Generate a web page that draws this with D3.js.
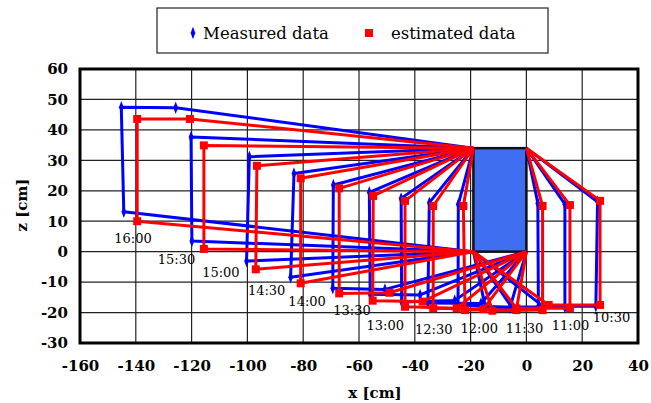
<!DOCTYPE html>
<html><head><meta charset="utf-8">
<script src="https://cdn.jsdelivr.net/npm/d3@7"></script>
<style>body{margin:0;background:#fff;} svg{display:block;}</style>
</head><body>
<svg id="c" width="651" height="403"></svg>
<script>
// ---- data ----
const times = ["16:00","15:30","15:00","14:30","14:00","13:30","13:00","12:30","12:00","11:30","11:00","10:30"];
// shadow corner points (x, z) per time, measured
const measured = [
  [[-125.7,47.3],[-145.2,47.4],[-144.3,13.1]],
  [[-120.2,37.7],[-119.9,3.5]],
  [[-99.3,31.2],[-100.3,-3.1]],
  [[-83.3,25.7],[-84.5,-8.4]],
  [[-69.2,21.9],[-69.4,-12.0],[-50.7,-12.4]],
  [[-56.3,19.5],[-56.0,-14.0],[-38.1,-14.2]],
  [[-44.9,17.5],[-44.7,-16.5],[-25.7,-16.0]],
  [[-34.8,16.1],[-35.3,-16.9],[-16.3,-17.0]],
  [[-24.4,15.6],[-24.5,-17.5],[-5.9,-18.4]],
  [[4.1,15.9],[4.3,-18.1],[-14.7,-18.2]],
  [[13.8,15.6],[13.8,-18.3],[-5.2,-18.3]],
  [[25.5,16.4],[24.9,-17.9],[5.9,-17.9]]
];
// estimated
const estimated = [
  [[-120.6,43.6],[-139.5,43.6],[-139.5,10.0]],
  [[-115.6,34.9],[-115.6,0.9]],
  [[-96.6,28.2],[-97.0,-5.8]],
  [[-80.9,24.1],[-80.9,-10.4]],
  [[-67.1,20.8],[-67.1,-13.7],[-49.1,-13.5]],
  [[-54.9,18.3],[-55.1,-16.1],[-37.2,-16.4]],
  [[-43.5,16.7],[-43.5,-18.1],[-25.0,-18.6]],
  [[-33.4,15.0],[-33.4,-18.6],[-15.4,-18.9]],
  [[-22.6,15.0],[-22.0,-19.2],[-3.6,-19.2]],
  [[5.8,15.0],[5.8,-19.2],[-12.2,-19.4]],
  [[15.6,15.3],[15.6,-18.6],[-3.6,-18.6]],
  [[26.4,16.7],[26.4,-17.5],[8.0,-17.5]]
];
// box (object) corners
const boxX = [-19, 0];
const boxZ = [0, 34];
// which box corner each shadow outline starts / ends at
const startCorner = ["TL","TL","TL","TL","TL","TL","TL","TL","TL","TR","TR","TR"];
const endCorner   = ["BL","BL","BL","BL","BR","BR","BR","BR","BR","BL","BL","BL"];
// time label anchor (x, z)
const labelPos = [[-141,4.5],[-125.4,-2.4],[-109.5,-6.7],[-93.1,-12.6],[-78.6,-16.5],[-62.5,-19.2],[-50.6,-24.1],[-33.2,-25.4],[-16.9,-25.1],[-0.7,-25.1],[15.8,-24.3],[30.5,-21.5]];
const xTicks = [-160,-140,-120,-100,-80,-60,-40,-20,0,20,40];
const zTicks = [-30,-20,-10,0,10,20,30,40,50,60];

// ---- chart ----
const svg = d3.select("#c");
const x = d3.scaleLinear().domain([-160,40]).range([80,638]);
const y = d3.scaleLinear().domain([-30,60]).range([343,69]);
const serif = "'DejaVu Serif', serif";

const corner = {
  TL:[boxX[0],boxZ[1]], TR:[boxX[1],boxZ[1]], BL:[boxX[0],boxZ[0]], BR:[boxX[1],boxZ[0]]
};

// grid
svg.append("g").selectAll("line").data(xTicks.slice(1,-1)).join("line")
  .attr("x1",d=>x(d)).attr("x2",d=>x(d)).attr("y1",y(60)).attr("y2",y(-30))
  .attr("stroke","#222").attr("stroke-width",1.2);
svg.append("g").selectAll("line").data(zTicks.slice(1,-1)).join("line")
  .attr("y1",d=>y(d)).attr("y2",d=>y(d)).attr("x1",x(-160)).attr("x2",x(40))
  .attr("stroke","#222").attr("stroke-width",1.2);

// box
svg.append("rect")
  .attr("x",x(boxX[0])).attr("y",y(boxZ[1]))
  .attr("width",x(boxX[1])-x(boxX[0])).attr("height",y(boxZ[0])-y(boxZ[1]))
  .attr("fill","#3f6ff0").attr("stroke","#111").attr("stroke-width",2.5);

const line = d3.line().x(d=>x(d[0])).y(d=>y(d[1]));
function drawSeries(data, color, marker){
  const g = svg.append("g");
  data.forEach((pts,i)=>{
    const full = [corner[startCorner[i]], ...pts, corner[endCorner[i]]];
    g.append("path").attr("d",line(full)).attr("fill","none")
      .attr("stroke",color).attr("stroke-width",3).attr("stroke-linejoin","round");
  });
  data.forEach(pts=>{
    pts.forEach(p=>{
      if(marker==="diamond"){
        g.append("path").attr("d",d3.symbol(d3.symbolDiamond,34)())
          .attr("transform",`translate(${x(p[0])},${y(p[1])}) scale(0.75,1.15)`).attr("fill",color);
      } else {
        g.append("rect").attr("x",x(p[0])-4).attr("y",y(p[1])-4).attr("width",8).attr("height",8).attr("fill",color);
      }
    });
  });
}
drawSeries(measured,"#0000ff","diamond");
drawSeries(estimated,"#ff0000","square");

// time labels
svg.append("g").selectAll("text").data(times).join("text")
  .attr("x",(d,i)=>x(labelPos[i][0])).attr("y",(d,i)=>y(labelPos[i][1]))
  .attr("dy","0.35em").attr("text-anchor","middle")
  .attr("font-family",serif).attr("font-size",13).attr("fill","#000").text(d=>d);

// plot border
svg.append("rect").attr("x",x(-160)).attr("y",y(60)).attr("width",x(40)-x(-160)).attr("height",y(-30)-y(60))
  .attr("fill","none").attr("stroke","#000").attr("stroke-width",3);

// axes
const xa = svg.append("g").attr("transform",`translate(0,${y(-30)+14})`)
  .call(d3.axisBottom(x).tickValues(xTicks).tickSize(0).tickFormat(d=>String(d)));
xa.select(".domain").remove();
xa.selectAll("text").attr("font-family",serif).attr("font-size",15).attr("font-weight","bold").attr("fill","#000");
const ya = svg.append("g").attr("transform",`translate(${x(-160)-9},0)`)
  .call(d3.axisLeft(y).tickValues(zTicks).tickSize(0).tickFormat(d=>String(d)));
ya.select(".domain").remove();
ya.selectAll("text").attr("font-family",serif).attr("font-size",15).attr("font-weight","bold").attr("fill","#000");

svg.append("text").attr("x",375).attr("y",398).attr("text-anchor","middle")
  .attr("font-family",serif).attr("font-size",15).attr("font-weight","bold").text("x [cm]");
svg.append("text").attr("transform","translate(27,205) rotate(-90)").attr("text-anchor","middle")
  .attr("font-family",serif).attr("font-size",15).attr("font-weight","bold").text("z [cm]");

// legend
svg.append("rect").attr("x",157).attr("y",8).attr("width",391).attr("height",45)
  .attr("fill","#fff").attr("stroke","#222").attr("stroke-width",1.2);
svg.append("path").attr("d",d3.symbol(d3.symbolDiamond,34)())
  .attr("transform","translate(193,33) scale(0.75,1.15)").attr("fill","#0000ff");
svg.append("text").attr("x",203).attr("y",33).attr("dy","0.35em")
  .attr("font-family",serif).attr("font-size",16.5).text("Measured data");
svg.append("rect").attr("x",365).attr("y",29).attr("width",8).attr("height",8).attr("fill","#ff0000");
svg.append("text").attr("x",391).attr("y",33).attr("dy","0.35em")
  .attr("font-family",serif).attr("font-size",16.5).text("estimated data");
</script>
</body></html>
